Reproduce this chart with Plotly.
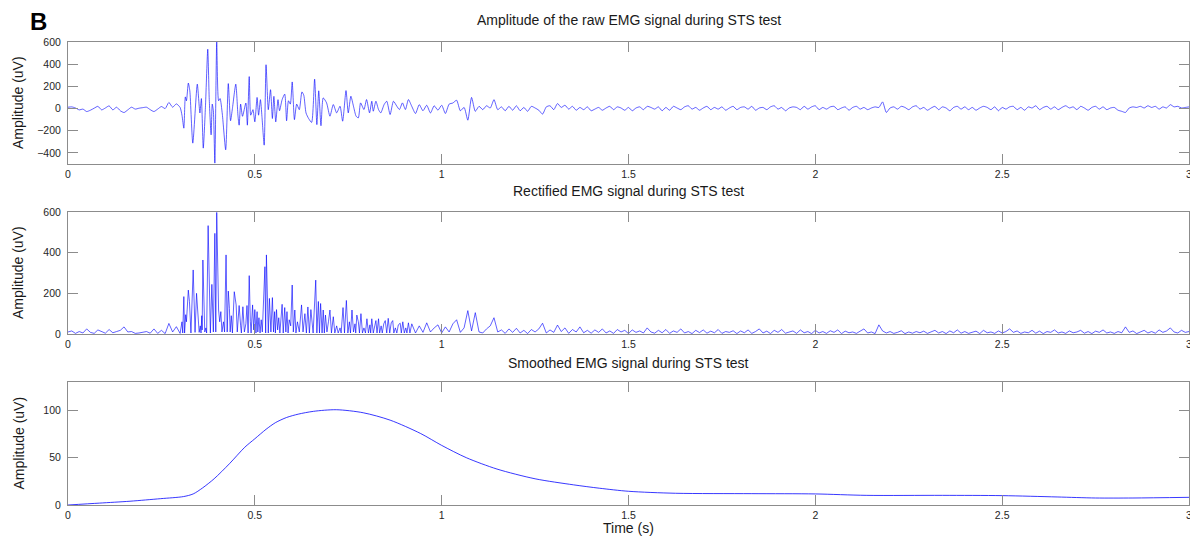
import numpy as np
import plotly.graph_objects as go

# ---------------- data ----------------
# Raw EMG, quiet part before the burst, sampled every 0.01 s from 0.00 s
raw_pre_uV = [12, 15, 5, -12, -5, -27, -15, 3, 20, -12, 5, 24, -12, 12, -20,
              -36, -12, 12, -5, 3, 8, 12, -10, -27, -5, 18, 0, 55, 12, 42]

# Raw EMG during the burst: turning points (time s, amplitude uV)
raw_burst_t = [0.300, 0.305, 0.310, 0.314, 0.317, 0.322, 0.326, 0.334, 0.346, 0.353,
               0.357, 0.362, 0.368, 0.374, 0.378, 0.383, 0.386, 0.389, 0.393, 0.398,
               0.403, 0.407, 0.413, 0.422, 0.429, 0.435, 0.440, 0.449, 0.455, 0.458,
               0.462, 0.467, 0.476, 0.480, 0.485, 0.489, 0.495, 0.500, 0.506, 0.510,
               0.515, 0.519, 0.525, 0.530, 0.536, 0.542, 0.547, 0.551, 0.556, 0.562,
               0.566, 0.573, 0.580, 0.585, 0.590, 0.595, 0.600, 0.606, 0.612, 0.619,
               0.626, 0.631, 0.637, 0.644, 0.652, 0.660, 0.666, 0.671, 0.677, 0.683,
               0.692, 0.701, 0.710, 0.719, 0.728, 0.735, 0.744, 0.750, 0.757, 0.764,
               0.771, 0.777, 0.783, 0.792, 0.799, 0.807, 0.813, 0.817, 0.824, 0.831,
               0.837, 0.846, 0.853, 0.862, 0.871, 0.880, 0.887, 0.895, 0.903, 0.911]
raw_burst_uV = [10, -60, -177, 105, 70, 230, 160, -312, 220, -40,
                90, -357, 30, 535, 80, -237, 40, -20, -492, 600,
                70, 90, -50, -372, 225, -110, 0, 220, -70, -150,
                40, -70, 50, -150, 288, -60, -10, -120, 100, -60,
                80, -70, -330, 395, -10, 170, -90, 110, -120, 80,
                -20, 80, 130, -110, 70, 40, 240, -100, 40, -10,
                150, 120, -40, -90, -125, 265, -145, 160, -155, 96,
                51, -69, 36, -39, 21, -114, 162, -39, 111, 21,
                -69, -84, 51, -9, 81, -39, 66, -24, 66, -9,
                -39, 36, 66, -54, 66, 21, -9, 51, -9, 81]

# Raw EMG after the burst, sampled every 0.01 s from 0.92 s to 3.00 s
raw_post_uV = [20, -45, 35, -20, 30, -40, 25, -15,
               30, -45, 40, 50, 75, -20, 10, -105, 100, -25,
               20, -10, 25, 5, 80, -10, 15, -20, 20, -15,
               25, -20, 10, -25, 20, 5, -15, -50, 15, 25,
               -10, 45, 10, 30, -5, 20, -15, 10, -10, 15,
               -20, -5, 10, -15, 5, 20, -10, 15, 5, -15,
               10, -20, 5, 15, -10, 20, 10, -5, 15, -20,
               10, -15, 20, 5, -10, 15, 25, -5, 10, -15,
               5, 20, -10, 10, -5, 15, -15, 5, 20, -10,
               10, 15, -5, 20, -15, 5, 10, -10, 15, 25,
               -5, 10, -20, 5, 15, 10, -10, 20, -5, 15,
               25, -10, 10, -5, 15, 20, -10, 5, 15, -15,
               10, 20, -5, 10, -10, 5, 15, 10, 60, -35,
               5, 15, -5, 20, 10, -10, 15, 25, -5, 10,
               -15, 5, 20, -10, 15, 5, -20, 10, 20, -5,
               15, -10, 10, -15, 5, 20, 10, -10, 15, -20,
               10, -5, 15, 20, -10, 10, -15, 15, 5, 25,
               -10, 10, 20, -5, 15, -10, 10, 25, 5, 15,
               -10, 20, 5, -15, 10, 20, -5, 15, -10, 5,
               10, -15, -25, -35, 5, 15, 10, 20, 5, 25,
               10, 20, -5, 15, 5, 35, 15, 20, 5, 10,
               15]

# Rectified EMG, before the burst, every 0.01 s from 0.00 s
rect_pre_uV = [10, 15, 3, 12, 5, 25, 8, 3, 20, 10, 4, 22, 6, 12, 18,
               35, 10, 12, 3, 5, 8, 12, 4, 25, 3, 18, 2, 52, 10, 36]

# Rectified EMG during the burst: (time s, amplitude uV)
rect_burst_t = [0.300, 0.305, 0.307, 0.310, 0.312, 0.315, 0.317, 0.322, 0.325, 0.329,
                0.335, 0.340, 0.344, 0.348, 0.351, 0.354, 0.356, 0.358, 0.359, 0.361,
                0.366, 0.369, 0.371, 0.375, 0.379, 0.381, 0.385, 0.387, 0.389, 0.393,
                0.3955, 0.398, 0.403, 0.406, 0.409, 0.412, 0.416, 0.419, 0.423, 0.426,
                0.429, 0.432, 0.434, 0.437, 0.440, 0.445, 0.450, 0.453, 0.458, 0.462,
                0.464, 0.468, 0.472, 0.476, 0.479, 0.482, 0.485, 0.488, 0.490, 0.494,
                0.497, 0.500, 0.503, 0.506, 0.508, 0.511, 0.514, 0.517, 0.520, 0.527,
                0.529, 0.531, 0.534, 0.536, 0.539, 0.541, 0.543, 0.547, 0.550, 0.553,
                0.555, 0.558, 0.561, 0.564, 0.567, 0.573, 0.576, 0.580, 0.583, 0.586,
                0.589, 0.592, 0.596, 0.600, 0.603, 0.607, 0.610, 0.614, 0.619, 0.625,
                0.629, 0.634, 0.638, 0.642, 0.646, 0.650, 0.656, 0.663, 0.666, 0.670,
                0.673, 0.676, 0.680, 0.683, 0.686, 0.689, 0.693, 0.697, 0.701, 0.705,
                0.710, 0.714, 0.719, 0.723, 0.728, 0.731, 0.736, 0.740, 0.745, 0.749,
                0.753, 0.756, 0.760, 0.764, 0.768, 0.770, 0.773, 0.777, 0.780, 0.784,
                0.788, 0.792, 0.796, 0.800, 0.804, 0.808, 0.810, 0.813, 0.817, 0.821,
                0.824, 0.827, 0.831, 0.834, 0.838, 0.841, 0.845, 0.849, 0.853, 0.857,
                0.861, 0.865, 0.869, 0.872, 0.876, 0.880, 0.884, 0.889, 0.892, 0.896,
                0.900, 0.904, 0.907, 0.911, 0.915]
rect_burst_uV = [3, 60, 5, 184, 5, 95, 60, 216, 160, 5,
                 315, 8, 200, 60, 8, 40, 5, 90, 20, 364,
                 10, 30, 5, 533, 60, 5, 244, 40, 10, 495,
                 10, 598, 118, 60, 110, 10, 60, 10, 389, 10,
                 211, 126, 10, 90, 5, 208, 143, 10, 140, 40,
                 5, 134, 10, 50, 140, 5, 287, 60, 5, 143,
                 20, 120, 5, 110, 10, 80, 5, 70, 10, 331,
                 5, 389, 60, 5, 175, 118, 10, 179, 10, 110,
                 5, 120, 20, 80, 5, 146, 5, 130, 10, 110,
                 5, 70, 40, 241, 10, 118, 5, 60, 10, 143,
                 10, 100, 5, 133, 5, 120, 5, 265, 5, 160,
                 5, 150, 5, 118, 5, 93, 10, 60, 118, 5,
                 85, 5, 40, 5, 30, 5, 130, 5, 165, 5,
                 60, 5, 118, 10, 50, 5, 93, 60, 5, 100,
                 5, 30, 5, 75, 5, 45, 5, 75, 5, 40,
                 66, 5, 75, 5, 40, 5, 50, 66, 5, 77,
                 5, 55, 66, 5, 30, 5, 45, 53, 5, 60,
                 5, 30, 5, 55, 5]

# Rectified EMG after the burst, every 0.01 s from 0.92 s to 3.00 s
rect_post_uV = [50, 5, 40, 8, 55, 10, 30, 45,
                5, 35, 10, 50, 70, 8, 30, 115, 15, 105,
                10, 5, 25, 40, 80, 10, 20, 3, 25, 8,
                28, 5, 18, 2, 22, 10, 25, 53, 5, 20,
                8, 44, 12, 30, 3, 22, 10, 35, 6, 18,
                4, 20, 8, 25, 5, 15, 3, 22, 10, 18,
                2, 20, 8, 15, 5, 30, 10, 4, 18, 6,
                22, 3, 15, 8, 25, 5, 12, 2, 18, 7,
                20, 4, 14, 6, 22, 3, 12, 8, 16, 2,
                15, 6, 20, 3, 12, 25, 5, 14, 2, 18,
                8, 22, 4, 10, 15, 3, 20, 6, 12, 2,
                18, 5, 12, 3, 16, 8, 20, 2, 14, 6,
                10, 3, 15, 25, 5, 10, 2, 45, 15, 5,
                12, 3, 8, 16, 2, 10, 4, 12, 6, 14,
                3, 10, 18, 5, 12, 2, 15, 6, 20, 4,
                12, 3, 10, 14, 2, 18, 6, 10, 3, 15,
                5, 12, 25, 8, 15, 3, 10, 6, 18, 4,
                14, 2, 12, 8, 20, 5, 10, 3, 15, 6,
                10, 18, 4, 12, 2, 14, 8, 20, 5, 10,
                3, 12, 6, 35, 8, 15, 2, 10, 18, 5,
                12, 4, 20, 8, 15, 30, 10, 5, 18, 8,
                12]

# Smoothed EMG envelope (time s, amplitude uV)
smooth_t = [0.0, 0.084, 0.166, 0.248, 0.309, 0.335, 0.36, 0.391, 0.432, 0.473,
            0.5, 0.53, 0.555, 0.585, 0.616, 0.657, 0.718, 0.79, 0.862, 0.944,
            1.0, 1.066, 1.148, 1.25, 1.353, 1.423, 1.5, 1.626, 1.83, 2.0,
            2.136, 2.34, 2.5, 2.647, 2.75, 2.85, 3.0]
smooth_uV = [0, 2, 4, 6.7, 8.9, 11.7, 18, 27.7, 43.6, 61,
             70, 80, 87, 92.5, 96, 99, 100.7, 97.5, 89.7, 75.5,
             63, 50, 38, 27.7, 21.3, 17.7, 14.5, 12.4, 12, 11.7,
             10.2, 10.2, 9.9, 8.5, 7.4, 7.4, 8.1]

panel_titles = ["Amplitude of the raw EMG signal during STS test",
                "Rectified EMG signal during STS test",
                "Smoothed EMG signal during STS test"]
y_label = "Amplitude (uV)"
x_label = "Time (s)"
x_ticks = [0, 0.5, 1, 1.5, 2, 2.5, 3]
raw_ticks = [-400, -200, 0, 200, 400, 600]
rect_ticks = [0, 200, 400, 600]
smooth_ticks = [0, 50, 100]

# ---------------- assemble series ----------------
t_pre = np.round(0.01 * np.arange(len(raw_pre_uV)), 3)
t_post = np.round(0.92 + 0.01 * np.arange(len(raw_post_uV)), 3)
raw_t = np.concatenate([t_pre, raw_burst_t, t_post])
raw_v = np.concatenate([raw_pre_uV, raw_burst_uV, raw_post_uV])

tr_pre = np.round(0.01 * np.arange(len(rect_pre_uV)), 3)
tr_post = np.round(0.92 + 0.01 * np.arange(len(rect_post_uV)), 3)
rect_t = np.concatenate([tr_pre, rect_burst_t, tr_post])
rect_v = np.concatenate([rect_pre_uV, rect_burst_uV, rect_post_uV])

FONT = "Liberation Sans, Arial, Helvetica, sans-serif"
BLUE = "rgba(0,0,255,0.78)"
AXC = "#8c8c8c"

# page offset: the HTML body has an 8 px margin
OFF = 8
FIG_W, FIG_H = 1198 - OFF, 544 - OFF
PL, PR = 68 - OFF, 1189 - OFF          # plot-area edges in figure pixels
TOP, BOT = 42 - OFF, 505 - OFF
PW = float(PR - PL)
H = float(BOT - TOP)

def px_x(x):
    return (x - OFF - PL) / PW

def px_y(y):
    return (BOT - (y - OFF)) / H

fig = go.Figure()
fig.add_trace(go.Scatter(x=raw_t, y=raw_v, mode="lines",
                         line=dict(color=BLUE, width=0.8, shape="spline", smoothing=0.6),
                         xaxis="x", yaxis="y", showlegend=False))
fig.add_trace(go.Scatter(x=rect_t, y=rect_v, mode="lines",
                         line=dict(color=BLUE, width=0.8),
                         xaxis="x2", yaxis="y2", showlegend=False))
fig.add_trace(go.Scatter(x=smooth_t, y=smooth_uV, mode="lines",
                         line=dict(color=BLUE, width=1.0, shape="spline", smoothing=0.8),
                         xaxis="x3", yaxis="y3", showlegend=False))

dom_top = [px_y(164), 1.0]
dom_mid = [px_y(334), px_y(212)]
dom_bot = [0.0, px_y(382)]

TICKFONT = dict(family=FONT, size=10.5, color="#262626")

def xax(anchor):
    return dict(domain=[0, 1], anchor=anchor, range=[0, 3], tickvals=x_ticks,
                ticks="inside", ticklen=10, tickwidth=1, tickcolor=AXC,
                showline=True, linecolor=AXC, linewidth=1, mirror="ticks",
                showgrid=False, zeroline=False, automargin=False,
                ticklabeloverflow="allow", tickfont=TICKFONT)

def yax(anchor, dom, rng, ticks):
    return dict(domain=dom, anchor=anchor, range=rng, tickvals=ticks,
                ticks="inside", ticklen=10, tickwidth=1, tickcolor=AXC,
                showline=True, linecolor=AXC, linewidth=1, mirror="ticks",
                showgrid=False, zeroline=False, automargin=False,
                ticklabelstandoff=4, tickfont=TICKFONT)

fig.update_layout(
    width=FIG_W, height=FIG_H,
    margin=dict(l=PL, r=FIG_W - PR, t=TOP, b=FIG_H - BOT, autoexpand=False),
    paper_bgcolor="white", plot_bgcolor="white",
    font=dict(family=FONT, color="#222"),
    xaxis=xax("y"), yaxis=yax("x", dom_top, [-500, 600], raw_ticks),
    xaxis2=xax("y2"), yaxis2=yax("x2", dom_mid, [0, 600], rect_ticks),
    xaxis3=xax("y3"), yaxis3=yax("x3", dom_bot, [0, 130], smooth_ticks),
)

TXT = dict(family=FONT, size=14, color="#1a1a1a")
ann = []
for txt, yy in zip(panel_titles, [20, 191, 363]):
    ann.append(dict(text=txt, x=0.5, y=px_y(yy), xref="paper", yref="paper",
                    xanchor="center", yanchor="middle", showarrow=False, font=TXT))
for dom in (dom_top, dom_mid, dom_bot):
    ann.append(dict(text=y_label, x=px_x(18), y=(dom[0] + dom[1]) / 2,
                    xref="paper", yref="paper", xanchor="center", yanchor="middle",
                    textangle=-90, showarrow=False, font=TXT))
ann.append(dict(text=x_label, x=0.5, y=px_y(528), xref="paper", yref="paper",
                xanchor="center", yanchor="middle", showarrow=False, font=TXT))
ann.append(dict(text="<b>B</b>", x=px_x(38), y=px_y(22),
                xref="paper", yref="paper", xanchor="center", yanchor="middle",
                showarrow=False, font=dict(family=FONT, size=24, color="black")))
fig.update_layout(annotations=ann)

fig.write_html("out.html")
